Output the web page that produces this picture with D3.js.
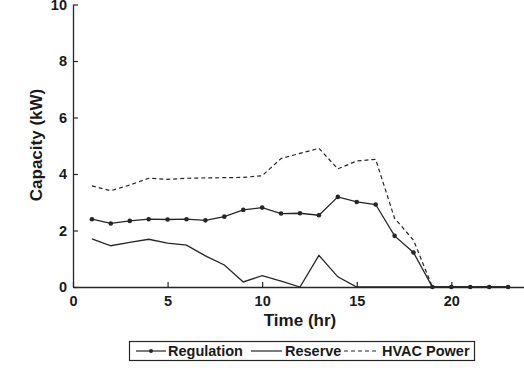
<!DOCTYPE html>
<html>
<head>
<meta charset="utf-8">
<script src="https://cdn.jsdelivr.net/npm/d3@7"></script>
<style>
  html, body { margin: 0; padding: 0; background: #fff; }
  svg { display: block; }
  text { font-family: "Liberation Sans", Arial, Helvetica, sans-serif; font-weight: bold; fill: #1a1a1a; }
</style>
</head>
<body>
<svg id="chart" width="524" height="381"></svg>
<script>
// Hourly capacity profile (kW)
const hours = [1,2,3,4,5,6,7,8,9,10,11,12,13,14,15,16,17,18,19,20,21,22,23];
const regulation = [2.40,2.25,2.34,2.40,2.39,2.40,2.36,2.49,2.73,2.81,2.60,2.61,2.54,3.19,3.01,2.92,1.81,1.22,0,0,0,0,0];
const reserve    = [1.70,1.46,1.58,1.69,1.55,1.48,1.10,0.78,0.18,0.40,0.21,0,1.12,0.36,0,0,0,0,0,0,0,0,0];
const hvacPower  = [3.58,3.41,3.61,3.85,3.81,3.85,3.86,3.87,3.88,3.94,4.55,4.73,4.91,4.18,4.46,4.52,2.43,1.66,0,0,0,0,0];
const xTicks = [0,5,10,15,20];
const yTicks = [0,2,4,6,8,10];

const svg = d3.select("#chart");
const ink = "#262626";

const x = d3.scaleLinear().domain([0, 24]).range([73, 527]);
const y = d3.scaleLinear().domain([0, 10]).range([287, 4.5]);

// axes: ticks point inward
const xAxis = d3.axisBottom(x).tickValues(xTicks).tickSize(-5).tickPadding(9).tickSizeOuter(0);
const yAxis = d3.axisLeft(y).tickValues(yTicks).tickSize(-5).tickPadding(6).tickSizeOuter(0);

const gx = svg.append("g").attr("transform", `translate(0,${y(0)})`).call(xAxis);
const gy = svg.append("g").attr("transform", `translate(${x(0)},0)`).call(yAxis);
[gx, gy].forEach(g => {
  g.select(".domain").attr("stroke", ink).attr("stroke-width", 1.3);
  g.selectAll(".tick line").attr("stroke", ink).attr("stroke-width", 1.2);
  g.selectAll(".tick text").style("font-size", "14.5px").attr("fill", "#1a1a1a");
});

// axis titles
svg.append("text")
  .attr("x", 300).attr("y", 326)
  .attr("text-anchor", "middle")
  .style("font-size", "17px")
  .text("Time (hr)");
svg.append("text")
  .attr("transform", "translate(42,145) rotate(-90)")
  .attr("text-anchor", "middle")
  .style("font-size", "17px")
  .text("Capacity (kW)");

const line = vals => d3.line()
  .x((d, i) => x(hours[i]))
  .y(d => y(d))(vals);

svg.append("path").attr("d", line(hvacPower))
  .attr("fill", "none").attr("stroke", ink).attr("stroke-width", 1.2)
  .attr("stroke-dasharray", "4,3");
svg.append("path").attr("d", line(reserve))
  .attr("fill", "none").attr("stroke", ink).attr("stroke-width", 1.3);
svg.append("path").attr("d", line(regulation))
  .attr("fill", "none").attr("stroke", ink).attr("stroke-width", 1.3);
svg.append("g").selectAll("circle").data(regulation).join("circle")
  .attr("cx", (d, i) => x(hours[i]))
  .attr("cy", d => y(d))
  .attr("r", 2.3)
  .attr("fill", ink);

// legend
const legend = svg.append("g");
legend.append("rect")
  .attr("x", 129.5).attr("y", 341.5).attr("width", 345).attr("height", 19)
  .attr("fill", "#fff").attr("stroke", ink).attr("stroke-width", 1.2);
const ly = 351;
const items = [
  { label: "Regulation", x0: 136, x1: 166, tx: 168, dash: null, dot: true },
  { label: "Reserve", x0: 251, x1: 282, tx: 285, dash: null, dot: false },
  { label: "HVAC Power", x0: 344, x1: 376, tx: 382, dash: "4,3", dot: false }
];
items.forEach(it => {
  legend.append("line")
    .attr("x1", it.x0).attr("x2", it.x1).attr("y1", ly).attr("y2", ly)
    .attr("stroke", ink).attr("stroke-width", 1.2)
    .attr("stroke-dasharray", it.dash);
  if (it.dot) {
    legend.append("circle").attr("cx", (it.x0 + it.x1) / 2).attr("cy", ly).attr("r", 2).attr("fill", ink);
  }
  legend.append("text")
    .attr("x", it.tx).attr("y", ly + 5)
    .style("font-size", "14.5px")
    .text(it.label);
});
</script>
</body>
</html>
